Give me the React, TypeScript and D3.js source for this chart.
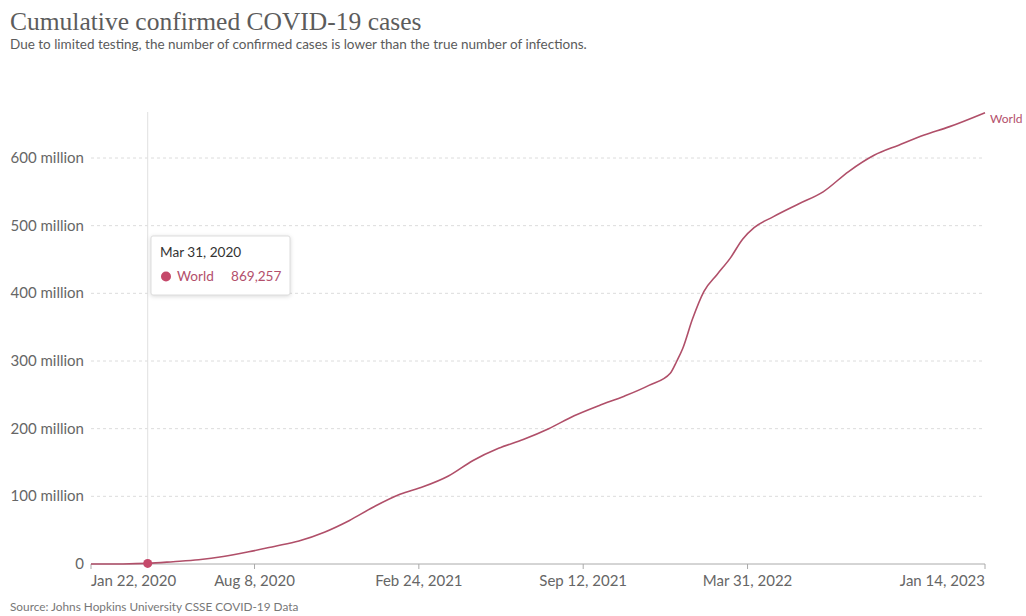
import React from "react";
import * as d3 from "d3";

const dates: string[] = [
  "2020-01-22", "2020-03-01", "2020-03-31", "2020-05-01", "2020-06-01", "2020-07-01",
  "2020-08-01", "2020-09-01", "2020-10-01", "2020-11-01", "2020-12-01", "2021-01-01",
  "2021-02-01", "2021-03-01", "2021-04-01", "2021-05-01", "2021-06-01", "2021-07-01",
  "2021-08-01", "2021-09-01", "2021-10-01", "2021-11-01", "2021-12-01", "2021-12-27",
  "2022-01-04", "2022-01-11", "2022-01-23", "2022-02-06", "2022-02-22", "2022-03-10",
  "2022-03-25", "2022-04-08", "2022-05-01", "2022-06-01", "2022-07-01", "2022-08-01",
  "2022-09-01", "2022-10-01", "2022-11-01", "2022-12-01", "2023-01-14",
];
// cumulative confirmed cases, millions
const worldCases: number[] = [
  0.000557, 0.09, 0.869257, 3.4, 6.3, 11,
  18, 26, 34, 47, 64, 85,
  103, 114, 130, 153, 171, 184,
  200, 219, 234, 248, 264, 282,
  300, 318, 362, 403, 428, 452,
  480, 497, 513, 532, 550, 580,
  604, 619, 634, 646, 667,
];
const yTicks: number[] = [0, 100, 200, 300, 400, 500, 600];
const xTickDates: string[] = ["2020-01-22", "2020-08-08", "2021-02-24", "2021-09-12", "2022-03-31", "2023-01-14"];
const hoverDate = "2020-03-31";
const hoverValue = 869257;

const parse = d3.utcParse("%Y-%m-%d");
const fmtTick = d3.utcFormat("%b %-d, %Y");

export default function App() {
  const W = 1026, H = 616;
  const left = 91, right = 985, top = 112, bottom = 564;
  const data = dates.map((d, i) => ({ date: parse(d)!, v: worldCases[i] }));
  const x = d3.scaleUtc().domain([parse("2020-01-22")!, parse("2023-01-14")!]).range([left, right]);
  const y = d3.scaleLinear().domain([0, 600]).range([bottom, bottom - 406]);
  const line = d3.line<{ date: Date; v: number }>()
    .x((d) => x(d.date))
    .y((d) => y(d.v))
    .curve(d3.curveMonotoneX);
  const last = data[data.length - 1];
  const hx = x(parse(hoverDate)!);
  const hy = y(hoverValue / 1e6);
  const font = "Lato, 'Noto Sans', sans-serif";

  return (
    <svg width={W} height={H} style={{ position: "absolute", left: 0, top: 0, background: "#fff" }}>
      <text x={10} y={30} fontFamily="'Liberation Serif', 'DejaVu Serif', serif" fontSize={25.5} fill="#5c5c5c">
        Cumulative confirmed COVID-19 cases
      </text>
      <text x={10} y={49} fontFamily={font} fontSize={13.5} fill="#5b5b5b">
        Due to limited testing, the number of confirmed cases is lower than the true number of infections.
      </text>

      {yTicks.map((t) => (
        <g key={t}>
          {t > 0 && (
            <line x1={left} x2={right} y1={y(t)} y2={y(t)} stroke="#dcdcdc" strokeDasharray="3,3" />
          )}
          <text x={84} y={y(t) + 5} textAnchor="end" fontFamily={font} fontSize={15} fill="#666">
            {t === 0 ? "0" : `${t} million`}
          </text>
        </g>
      ))}

      <line x1={hx} x2={hx} y1={top} y2={bottom} stroke="#e0e0e0" />

      <line x1={left} x2={right} y1={bottom} y2={bottom} stroke="#aaa" />
      {xTickDates.map((d, i) => {
        const tx = x(parse(d)!);
        const anchor = i === 0 ? "start" : i === xTickDates.length - 1 ? "end" : "middle";
        return (
          <g key={d}>
            <line x1={tx} x2={tx} y1={bottom} y2={bottom + 5} stroke="#aaa" />
            <text x={tx} y={bottom + 22} textAnchor={anchor} fontFamily={font} fontSize={15} fill="#666">
              {fmtTick(parse(d)!)}
            </text>
          </g>
        );
      })}

      <path d={line(data) ?? ""} fill="none" stroke="#b04f69" strokeWidth={1.6} />
      <text x={x(last.date) + 5} y={y(last.v) + 10} fontFamily={font} fontSize={12} fill="#b3506c">
        World
      </text>
      <circle cx={hx} cy={hy} r={4.5} fill="#c5496a" />

      <g>
        <rect x={151} y={236} width={139} height={59} fill="#fff" stroke="#ddd" rx={2}
          style={{ filter: "drop-shadow(0px 1px 2px rgba(0,0,0,0.15))" }} />
        <text x={160} y={257} fontFamily={font} fontSize={13.6} fill="#333">
          {fmtTick(parse(hoverDate)!)}
        </text>
        <circle cx={166} cy={276.5} r={5} fill="#c5496a" />
        <text x={177} y={281} fontFamily={font} fontSize={13.6} fill="#b3506c">World</text>
        <text x={231} y={281} fontFamily={font} fontSize={13.6} fill="#b3506c">
          {d3.format(",")(hoverValue)}
        </text>
      </g>

      <text x={10} y={611} fontFamily={font} fontSize={11.8} fill="#777">
        Source: Johns Hopkins University CSSE COVID-19 Data
      </text>
    </svg>
  );
}
